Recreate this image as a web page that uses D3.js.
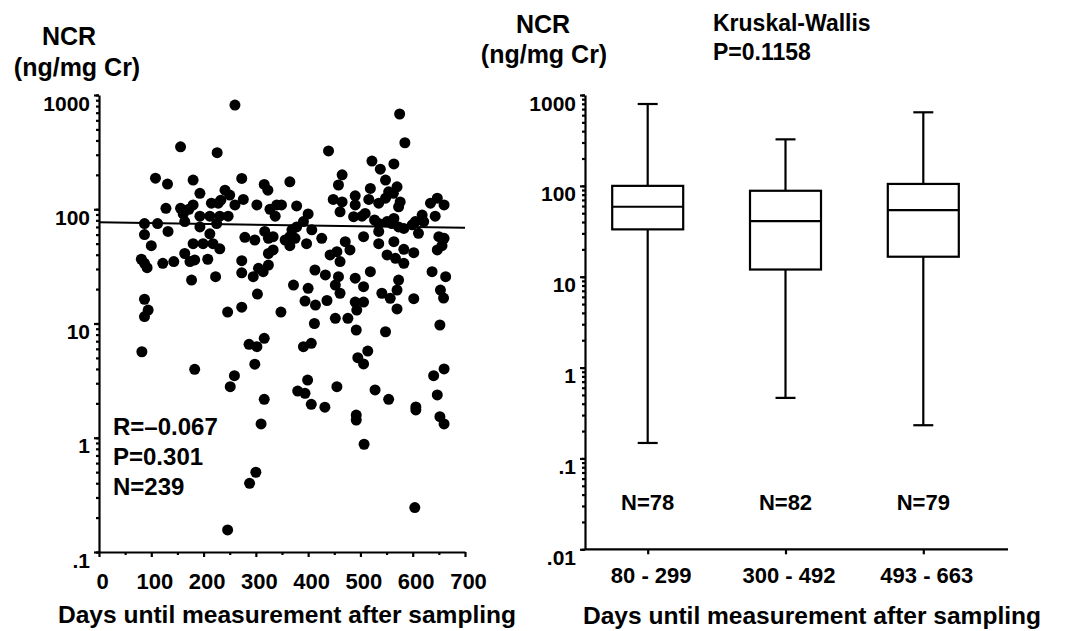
<!DOCTYPE html>
<html>
<head>
<meta charset="utf-8">
<script src="https://d3js.org/d3.v7.min.js"></script>
<style>
  body { margin: 0; background: #fff; }
  svg text { font-family: "Liberation Sans", Arial, Helvetica, sans-serif; font-weight: bold; fill: #000; }
  .axis path, .axis line { stroke: #000; stroke-width: 2.2; }
</style>
</head>
<body>
<svg id="chart" width="1084" height="631"></svg>
<script>
// scatter: days until measurement vs NCR (ng/mg Cr)
var days = [
  156,226,108,131,180,193,128,156,161,180,215,233,87,112,132,87,100,164,193,212,
  231,193,212,180,199,218,231,164,81,87,92,122,143,174,183,208,177,223,87,94,172,
  260,439,273,316,323,365,241,250,228,276,260,302,327,340,349,378,337,448,465,461,
  247,225,400,391,378,369,365,375,407,317,324,333,279,298,356,365,397,426,324,333,
  273,305,324,314,273,295,413,433,442,455,461,452,461,372,400,303,394,414,436,246,
  273,348,
  575,585,522,538,564,548,465,458,519,570,554,563,490,516,535,548,576,573,490,487,
  503,509,527,535,551,564,560,573,583,599,605,618,621,634,647,660,643,611,535,506,
  535,564,583,602,551,567,583,471,480,650,660,647,656,519,490,506,458,573,570,637,
  663,541,557,602,653,659,490,506,570,
  87,82,183,287,302,316,298,259,251,316,310,300,288,246,493,412,452,476,492,548,
  652,391,406,495,514,506,399,380,394,455,528,554,406,432,492,492,606,606,640,660,
  647,652,660,507,604
];
var ncr = [
  352,313,187,166,180,138,102,102,91,109,113,120,75,75,64,60,48,78,87,87,
  87,70,61,50,50,50,45,41,36.5,33.6,30.8,33.6,34.8,34.8,36,36.5,24,25.7,16.3,13.1,100,
  817,324,186,165,147,174,147,133,113,122,109,109,100,109,109,107,87,122,116,95,
  87,75,91,78,70,66,57.5,55.7,66,64,55.7,57.5,56.8,53.8,53.8,48,50,55.7,41,44,
  35.5,30.4,32.5,28.4,27.8,25.7,29.4,26.6,39.8,42.5,34.8,21.7,18.4,21.7,20.3,18.1,15.7,14.5,15.9,12.6,
  13.9,12.6,
  682,382,264,224,249,180,200,163,152,157,142,138,131,122,113,125,116,105,109,86,
  87,92,80.5,75,78,83,75,70,68,73,78,89,78,113,125,109,87,61.6,64,57.5,
  50,52,44.6,41.7,39.8,37.2,33.6,52,44,57.5,55.7,44,48,28.4,24.9,21,25.7,24,19.6,28.4,
  25.7,18.4,16.6,16.5,19.6,16.7,15.4,15.4,13.4,
  11.5,5.66,3.97,6.58,6.27,7.42,4.40,3.49,2.80,2.17,1.32,0.499,0.399,0.156,13.1,10.0,11.1,11.1,8.77,8.47,
  9.70,6.27,6.71,5.02,5.74,4.43,3.20,2.56,2.45,2.80,2.62,2.17,1.96,1.85,1.58,1.43,1.86,1.75,3.49,4.0,
  2.37,1.53,1.32,0.877,0.245
];

// fitted line
var fitDays = [0, 60, 700];
var fitNcr = [77, 76, 69];

// box plot groups
var groups = ["80 - 299", "300 - 492", "493 - 663"];
var groupN = [78, 82, 79];
var boxMin = [0.148, 0.464, 0.232];
var boxQ1 = [33.2, 12.0, 16.6];
var boxMed = [58.9, 40.9, 54.1];
var boxQ3 = [100, 88.3, 105];
var boxMax = [796, 325, 645];

var xTicks = [0, 100, 200, 300, 400, 500, 600, 700];
var yTicksLeft = [0.1, 1, 10, 100, 1000];
var yTicksRight = [0.01, 0.1, 1, 10, 100, 1000];

function fmt(d) { return d < 1 ? String(d).replace("0.", ".") : String(d); }

var svg = d3.select("#chart");

// ---------- left panel ----------
var xL = d3.scaleLinear().domain([0, 700]).range([99, 465]);
var yL = d3.scaleLog().domain([0.1, 1000]).range([552, 95]);

// minor ticks
svg.append("g").attr("class", "axis").attr("transform", "translate(99,0)")
  .call(d3.axisLeft(yL).tickValues(yL.ticks()).tickSize(3).tickFormat("").tickSizeOuter(0))
  .select(".domain").remove();
svg.append("g").attr("class", "axis").attr("transform", "translate(0,552)")
  .call(d3.axisBottom(xL).tickValues(d3.range(50, 700, 100)).tickSize(3).tickFormat("").tickSizeOuter(0))
  .select(".domain").remove();

var gyl = svg.append("g").attr("class", "axis").attr("transform", "translate(99,0)")
  .call(d3.axisLeft(yL).tickValues(yTicksLeft).tickFormat(fmt).tickSize(5).tickPadding(4).tickSizeOuter(0));
gyl.selectAll("text").attr("dy", "0.72em").style("font-size", "21px");

var gxl = svg.append("g").attr("class", "axis").attr("transform", "translate(0,552)")
  .call(d3.axisBottom(xL).tickValues(xTicks).tickSize(5).tickPadding(16).tickSizeOuter(0));
gxl.selectAll("text").attr("dx", "3").style("font-size", "22px");

svg.append("path")
  .datum(fitDays.map(function(d, i) { return [d, fitNcr[i]]; }))
  .attr("fill", "none").attr("stroke", "#000").attr("stroke-width", 2)
  .attr("d", d3.line().x(function(d) { return xL(d[0]); }).y(function(d) { return yL(d[1]); }));

svg.append("g").selectAll("circle")
  .data(days.map(function(d, i) { return [d, ncr[i]]; }))
  .enter().append("circle")
  .attr("cx", function(d) { return xL(d[0]); })
  .attr("cy", function(d) { return yL(d[1]); })
  .attr("r", 5.5)
  .attr("fill", "#000");

svg.append("text").attr("x", 69).attr("y", 45).attr("text-anchor", "middle").style("font-size", "25px").text("NCR");
svg.append("text").attr("x", 77).attr("y", 76).attr("text-anchor", "middle").style("font-size", "25px").text("(ng/mg Cr)");

var stats = ["R=\u20130.067", "P=0.301", "N=239"];
svg.append("g").selectAll("text").data(stats).enter().append("text")
  .attr("x", 113).attr("y", function(d, i) { return 435 + i * 30; })
  .style("font-size", "24px").text(function(d) { return d; });

svg.append("text").attr("x", 287).attr("y", 623).attr("text-anchor", "middle")
  .attr("textLength", 458).attr("lengthAdjust", "spacingAndGlyphs")
  .style("font-size", "24px").text("Days until measurement after sampling");

// ---------- right panel ----------
var xR = d3.scalePoint().domain(groups).range([647.7, 923.3]);
var yR = d3.scaleLog().domain([0.01, 1000]).range([549.3, 95]);

svg.append("g").attr("class", "axis").attr("transform", "translate(585,0)")
  .call(d3.axisLeft(yR).tickValues(yR.ticks()).tickSize(3).tickFormat("").tickSizeOuter(0))
  .select(".domain").remove();
var gyr = svg.append("g").attr("class", "axis").attr("transform", "translate(585,0)")
  .call(d3.axisLeft(yR).tickValues(yTicksRight).tickFormat(fmt).tickSize(5).tickPadding(4).tickSizeOuter(0));
gyr.selectAll("text").attr("dy", "0.72em").style("font-size", "21px");

var gxr = svg.append("g").attr("class", "axis").attr("transform", "translate(0,549.3)")
  .call(d3.axisBottom(xR).tickSize(5).tickPadding(13).tickSizeOuter(0));
gxr.select(".domain").remove();
gxr.selectAll("text").attr("dx", "3").style("font-size", "22px");
svg.append("line").attr("x1", 585).attr("x2", 1008).attr("y1", 549.3).attr("y2", 549.3)
  .attr("stroke", "#000").attr("stroke-width", 2.2);

var boxW = 71, capW = 20;
var boxes = svg.append("g").selectAll("g").data(groups).enter().append("g")
  .attr("fill", "none").attr("stroke", "#000").attr("stroke-width", 2.2);
boxes.append("line")
  .attr("x1", function(d) { return xR(d); }).attr("x2", function(d) { return xR(d); })
  .attr("y1", function(d, i) { return yR(boxMax[i]); }).attr("y2", function(d, i) { return yR(boxQ3[i]); });
boxes.append("line")
  .attr("x1", function(d) { return xR(d); }).attr("x2", function(d) { return xR(d); })
  .attr("y1", function(d, i) { return yR(boxQ1[i]); }).attr("y2", function(d, i) { return yR(boxMin[i]); });
boxes.append("line")
  .attr("x1", function(d) { return xR(d) - capW / 2; }).attr("x2", function(d) { return xR(d) + capW / 2; })
  .attr("y1", function(d, i) { return yR(boxMax[i]); }).attr("y2", function(d, i) { return yR(boxMax[i]); });
boxes.append("line")
  .attr("x1", function(d) { return xR(d) - capW / 2; }).attr("x2", function(d) { return xR(d) + capW / 2; })
  .attr("y1", function(d, i) { return yR(boxMin[i]); }).attr("y2", function(d, i) { return yR(boxMin[i]); });
boxes.append("rect")
  .attr("x", function(d) { return xR(d) - boxW / 2; }).attr("width", boxW)
  .attr("y", function(d, i) { return yR(boxQ3[i]); })
  .attr("height", function(d, i) { return yR(boxQ1[i]) - yR(boxQ3[i]); });
boxes.append("line")
  .attr("x1", function(d) { return xR(d) - boxW / 2; }).attr("x2", function(d) { return xR(d) + boxW / 2; })
  .attr("y1", function(d, i) { return yR(boxMed[i]); }).attr("y2", function(d, i) { return yR(boxMed[i]); });

svg.append("g").selectAll("text").data(groups).enter().append("text")
  .attr("x", function(d) { return xR(d); }).attr("y", 510).attr("text-anchor", "middle")
  .style("font-size", "22px").text(function(d, i) { return "N=" + groupN[i]; });

svg.append("text").attr("x", 543).attr("y", 33).attr("text-anchor", "middle").style("font-size", "25px").text("NCR");
svg.append("text").attr("x", 544).attr("y", 63).attr("text-anchor", "middle").style("font-size", "25px").text("(ng/mg Cr)");
svg.append("text").attr("x", 713).attr("y", 31).style("font-size", "23px").text("Kruskal-Wallis");
svg.append("text").attr("x", 713).attr("y", 60).style("font-size", "23px").text("P=0.1158");

svg.append("text").attr("x", 812).attr("y", 624).attr("text-anchor", "middle")
  .attr("textLength", 458).attr("lengthAdjust", "spacingAndGlyphs")
  .style("font-size", "24px").text("Days until measurement after sampling");
</script>
</body>
</html>
